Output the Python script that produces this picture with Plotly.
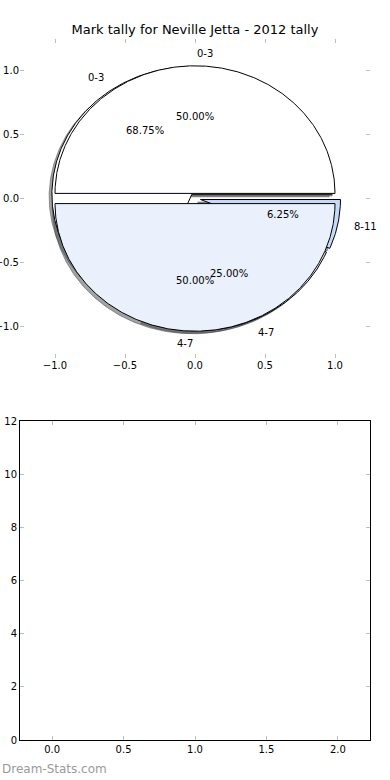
import numpy as np
import plotly.graph_objects as go

# ---------------- data ----------------
chart_title = "Mark tally for Neville Jetta - 2012 tally"
pie_a_labels = ["0-3", "4-7"]
pie_a_values = [50.0, 50.0]
pie_a_colors = ["#FFFFFF", "#EAF0FC"]
pie_b_labels = ["0-3", "4-7", "8-11"]
pie_b_values = [68.75, 25.0, 6.25]
pie_b_colors = ["#FFFFFF", "#EAF0FC", "#C6DAF8"]
top_ticks = [-1.0, -0.5, 0.0, 0.5, 1.0]
bottom_xticks = [0.0, 0.5, 1.0, 1.5, 2.0]
bottom_yticks = [0, 2, 4, 6, 8, 10, 12]
watermark = "Dream-Stats.com"

# ---------------- style ----------------
EXPLODE = 0.04
SHADOW = 0.02
FONT = "DejaVu Sans"
TICKCOL = "#bdbdbd"


def hex_rgb(h):
    h = h.lstrip("#")
    return tuple(int(h[i:i + 2], 16) for i in (0, 2, 4))


def build_wedges(values, colors, start=0.0, explode=EXPLODE):
    total = float(sum(values))
    t1 = start
    res = []
    for v, c in zip(values, colors):
        t2 = t1 + 360.0 * v / total
        tm = np.deg2rad(0.5 * (t1 + t2))
        cx, cy = explode * np.cos(tm), explode * np.sin(tm)
        n = max(int(abs(t2 - t1) * 2), 6)
        th = np.deg2rad(np.linspace(t1, t2, n))
        xs = np.concatenate([[cx], cx + np.cos(th), [cx]])
        ys = np.concatenate([[cy], cy + np.sin(th), [cy]])
        res.append(dict(xs=xs, ys=ys, tm=tm, cx=cx, cy=cy,
                        pct=100.0 * v / total, color=c))
        t1 = t2
    return res


wa = build_wedges(pie_a_values, pie_a_colors)
wb = build_wedges(pie_b_values, pie_b_colors)

fig = go.Figure()

# shadows (all below all wedges, as in the original renderer)
for w in wb + wa:
    r, g, b = hex_rgb(w["color"])
    sc = "rgba(%d,%d,%d,0.5)" % (int(r * 0.3), int(g * 0.3), int(b * 0.3))
    fig.add_trace(go.Scatter(x=w["xs"] - SHADOW, y=w["ys"] - SHADOW, mode="lines",
                             fill="toself", fillcolor=sc,
                             line=dict(color=sc, width=1),
                             hoverinfo="skip", showlegend=False,
                             xaxis="x", yaxis="y"))
# wedges: second pie underneath, first pie on top
for w in wb + wa:
    fig.add_trace(go.Scatter(x=w["xs"], y=w["ys"], mode="lines",
                             fill="toself", fillcolor=w["color"],
                             line=dict(color="#000000", width=1),
                             hoverinfo="skip", showlegend=False,
                             xaxis="x", yaxis="y"))

annotations = []
for labels, ws in ((pie_b_labels, wb), (pie_a_labels, wa)):
    for lab, w in zip(labels, ws):
        xt = w["cx"] + 1.1 * np.cos(w["tm"])
        yt = w["cy"] + 1.1 * np.sin(w["tm"])
        annotations.append(dict(x=xt, y=yt, xref="x", yref="y", text=lab,
                                showarrow=False,
                                xanchor="left" if xt > 0 else "right",
                                yanchor="middle",
                                font=dict(family=FONT, size=10, color="#000")))
        xp = w["cx"] + 0.6 * np.cos(w["tm"])
        yp = w["cy"] + 0.6 * np.sin(w["tm"])
        annotations.append(dict(x=xp, y=yp, xref="x", yref="y",
                                text="%.2f%%" % w["pct"], showarrow=False,
                                xanchor="center", yanchor="middle",
                                font=dict(family=FONT, size=10, color="#000")))

# empty lower axes needs a trace to exist
fig.add_trace(go.Scatter(x=[None], y=[None], xaxis="x2", yaxis="y2",
                         showlegend=False, hoverinfo="skip"))

W, H = 390, 780
ML, MR, MT, MB = 20, 20, 39, 40
ph = H - MT - MB

annotations.append(dict(text=watermark, xref="paper", yref="paper",
                        x=-ML / (W - ML - MR), y=(MB - (769 - (H - MB))) / ph - MB / ph,
                        xanchor="left", yanchor="middle", showarrow=False,
                        font=dict(family=FONT, size=12, color="#9a9a9a")))


def minus(v, fmt):
    s = fmt % v
    return s.replace("-", "\u2212")


tickfont = dict(family=FONT, size=10, color="#000")
common = dict(ticks="inside", ticklen=4, tickwidth=1, tickcolor=TICKCOL,
              showgrid=False, zeroline=False, tickfont=tickfont,
              automargin=False, mirror="ticks")

fig.update_layout(
    width=W, height=H,
    margin=dict(l=ML, r=MR, t=MT, b=MB),
    paper_bgcolor="#FFFFFF", plot_bgcolor="rgba(0,0,0,0)",
    showlegend=False,
    title=dict(text=chart_title, x=0.5, xref="paper", xanchor="center",
               y=1 - 29 / H, yref="container", yanchor="middle",
               font=dict(family=FONT, size=13, color="#000")),
    xaxis=dict(domain=[0, 1], range=[-1.25, 1.25], anchor="y",
               tickvals=top_ticks, ticktext=[minus(v, "%.1f") for v in top_ticks],
               showline=False, **common),
    yaxis=dict(domain=[(H - MB - 358) / ph, 1], range=[-1.25, 1.25], anchor="x",
               tickvals=top_ticks, ticktext=[minus(v, "%.1f") for v in top_ticks],
               showline=False, **common),
    xaxis2=dict(domain=[0, 1], range=[-0.225, 2.225], anchor="y2",
                tickvals=bottom_xticks, ticktext=["%.1f" % v for v in bottom_xticks],
                showline=True, linecolor="#000", linewidth=1, **common),
    yaxis2=dict(domain=[0, (H - MB - 421) / ph], range=[0, 12], anchor="x2",
                tickvals=bottom_yticks, ticktext=["%d" % v for v in bottom_yticks],
                showline=True, linecolor="#000", linewidth=1, **common),
    annotations=annotations,
)

fig.write_html("out.html", config={"displayModeBar": False})
